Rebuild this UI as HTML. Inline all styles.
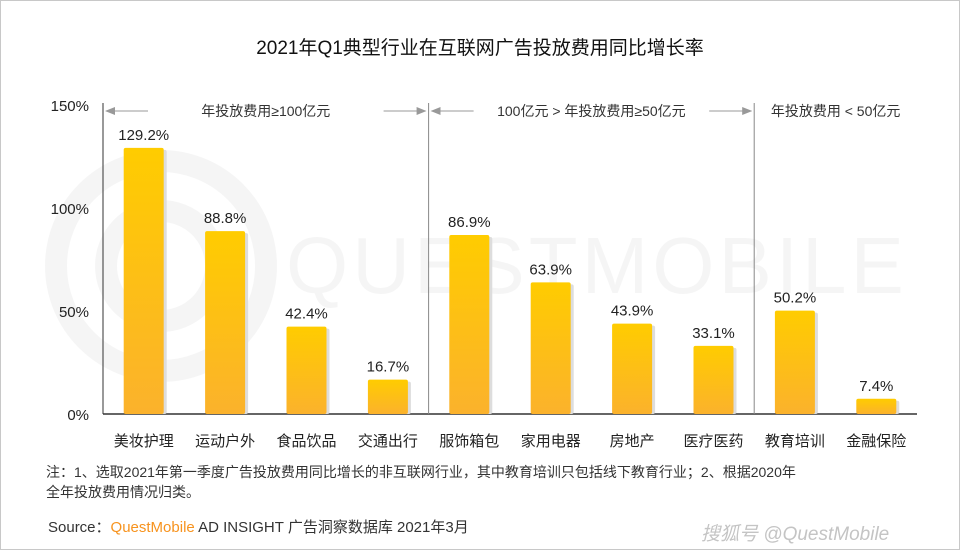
<!DOCTYPE html>
<html><head><meta charset="utf-8"><style>
body{margin:0;background:#fff}
#wrap{position:relative;width:958px;height:548px;border:1px solid #c8c8c8;overflow:hidden;font-family:"Liberation Sans","Noto Sans CJK SC",sans-serif;background:#fff}
.t{position:absolute;white-space:nowrap;color:#222}
</style></head><body>
<div id="wrap">
<div class="t" style="left:0;width:958px;text-align:center;top:32px;font-size:19px;color:#111">2021年Q1典型行业在互联网广告投放费用同比增长率</div>
<svg id="chart" width="958" height="548" style="position:absolute;left:0;top:0">
<defs>
<linearGradient id="g" x1="0" y1="0" x2="0" y2="1"><stop offset="0" stop-color="#ffcc00"/><stop offset="1" stop-color="#fbb22c"/></linearGradient>
<marker id="ar" markerWidth="10" markerHeight="8" refX="9" refY="4" orient="auto"><path d="M0,0 L10,4 L0,8 z" fill="#999"/></marker>
</defs>
<g opacity="0.035">
<circle cx="160" cy="265" r="105" fill="none" stroke="#000" stroke-width="22"/>
<circle cx="160" cy="265" r="55" fill="none" stroke="#000" stroke-width="22"/>
<text x="285" y="292" font-size="80" font-family="Liberation Sans" letter-spacing="4">QUESTMOBILE</text>
</g>
</svg>
<div class="t" style="left:45px;top:461px;font-size:14px;line-height:20px;color:#333">注：1、选取2021年第一季度广告投放费用同比增长的非互联网行业，其中教育培训只包括线下教育行业；2、根据2020年<br>全年投放费用情况归类。</div>
<div class="t" style="left:47px;top:515px;font-size:15px;color:#333">Source：<span style="color:#f7931e">QuestMobile</span> AD INSIGHT 广告洞察数据库 2021年3月</div>
<div class="t" style="left:700px;top:518px;font-size:19px;color:#c4c4c4;font-style:italic">搜狐号 @QuestMobile</div>
</div>
<script>
const categories=["美妆护理","运动户外","食品饮品","交通出行","服饰箱包","家用电器","房地产","医疗医药","教育培训","金融保险"];
const values=[129.2,88.8,42.4,16.7,86.9,63.9,43.9,33.1,50.2,7.4];
const ticks=[0,50,100,150];
const groupLabels=["年投放费用≥100亿元","100亿元 > 年投放费用≥50亿元","年投放费用 <  50亿元"];
const groupSizes=[4,4,2];
const NS="http://www.w3.org/2000/svg";
const svg=document.getElementById('chart');
const X0=102,X1=916,Y0=413,YS=2.06;
const slot=(X1-X0)/categories.length;
const y=v=>Y0-v*YS;
const xc=i=>X0+slot*(i+0.5);
function mk(t,a,p){const e=document.createElementNS(NS,t);for(const k in a)e.setAttribute(k,a[k]);(p||svg).appendChild(e);return e;}
let ax=mk('line',{x1:X0,y1:y(150)-2,x2:X0,y2:Y0,stroke:'#333','stroke-width':1});


let bx=mk('line',{x1:X0,y1:Y0,x2:X1,y2:Y0,stroke:'#333','stroke-width':1.5});


ticks.forEach(t=>{const e=mk('text',{x:88,y:y(t)+6,'text-anchor':'end','font-size':15,fill:'#222'});e.textContent=t+'%';

});
let start=0;
groupSizes.forEach((n,gi)=>{
 const gx0=X0+slot*start, gx1=X0+slot*(start+n);
 if(gi>0){const s=mk('line',{x1:gx0,y1:y(150)-2,x2:gx0,y2:Y0,stroke:'#888','stroke-width':1});
 
 }
 const mid=(gx0+gx1)/2, ly=y(150)+6;
 const lab=mk('text',{x:mid,y:ly+5,'text-anchor':'middle','font-size':14,fill:'#333'});lab.textContent=groupLabels[gi];
 
 
 if(gi<2){
 const a1=mk('line',{x1:gx0+45,y1:ly,x2:gx0+3,y2:ly,stroke:'#999','marker-end':'url(#ar)'});
 
 
 const a2=mk('line',{x1:gx1-45,y1:ly,x2:gx1-3,y2:ly,stroke:'#999','marker-end':'url(#ar)'});
 
 }
 start+=n;
});
values.forEach((v,i)=>{
 const cx=xc(i),w=40;
 const sh=mk('rect',{x:cx-w/2+3,y:y(v)+2,width:w,height:Y0-y(v)-2,fill:'#ddd',rx:2});
 
 
 const r=mk('rect',{x:cx-w/2,y:y(v),width:w,height:Y0-y(v),fill:'url(#g)',rx:2});
 
 
 const t=mk('text',{x:cx,y:y(v)-8,'text-anchor':'middle','font-size':15,fill:'#222'});t.textContent=v.toFixed(1)+'%';
 
 
 const c=mk('text',{x:cx,y:Y0+32,'text-anchor':'middle','font-size':15,fill:'#222'});c.textContent=categories[i];
 
 
});
</script>
</body></html>
